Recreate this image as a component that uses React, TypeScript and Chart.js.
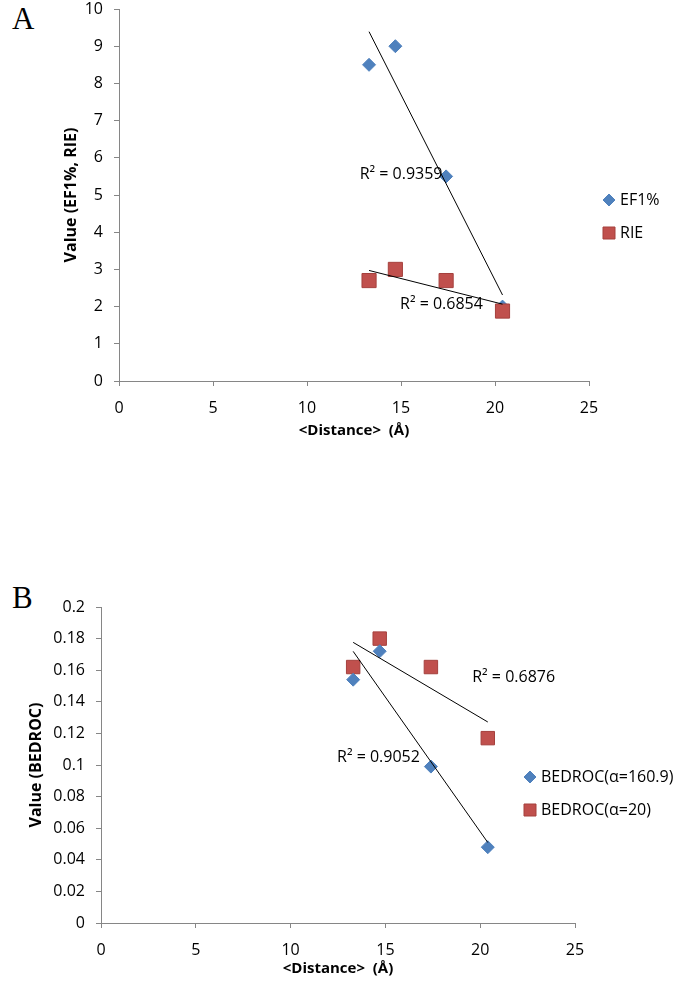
import React, { useEffect, useRef } from 'react';
import { Chart, registerables } from 'chart.js';

Chart.register(...registerables);

// ---------- data ----------
const distances = [13.3, 14.7, 17.4, 20.4];
const ef1Values = [8.5, 9.0, 5.5, 2.0];
const rieValues = [2.7, 3.0, 2.7, 1.88];
const bedroc160Values = [0.154, 0.172, 0.099, 0.048];
const bedroc20Values = [0.162, 0.18, 0.162, 0.117];

const seriesNamesA = ['EF1%', 'RIE'];
const seriesNamesB = ['BEDROC(α=160.9)', 'BEDROC(α=20)'];
const r2TextsA = ['R² = 0.9359', 'R² = 0.6854'];
const r2TextsB = ['R² = 0.6876', 'R² = 0.9052'];
const xAxisTitle = '<Distance>  (Å)';
const yAxisTitleA = 'Value (EF1%, RIE)';
const yAxisTitleB = 'Value (BEDROC)';

// R² label anchors in data units (left edge, vertical middle)
const r2AnchorsA = [
  { x: 12.8, y: 5.55 },
  { x: 14.95, y: 2.05 },
];
const r2AnchorsB = [
  { x: 19.58, y: 0.1555 },
  { x: 12.45, y: 0.105 },
];

const BLUE = '#4F81BD';
const RED = '#C0504D';
const RED_BORDER = '#A5403D';
const AXIS = '#868686';
const FONT = "'Open Sans', 'DejaVu Sans', sans-serif";

function pts(xs: number[], ys: number[]) {
  return xs.map((x, i) => ({ x, y: ys[i] }));
}

function trend(xs: number[], ys: number[]) {
  const n = xs.length;
  const mx = xs.reduce((a, b) => a + b, 0) / n;
  const my = ys.reduce((a, b) => a + b, 0) / n;
  let sxy = 0;
  let sxx = 0;
  for (let i = 0; i < n; i++) {
    sxy += (xs[i] - mx) * (ys[i] - my);
    sxx += (xs[i] - mx) * (xs[i] - mx);
  }
  const b = sxy / sxx;
  const a = my - b * mx;
  const x0 = Math.min(...xs);
  const x1 = Math.max(...xs);
  return [
    { x: x0, y: a + b * x0 },
    { x: x1, y: a + b * x1 },
  ];
}

function drawMarker(ctx: CanvasRenderingContext2D, style: string, x: number, y: number, size: number, fill: string, stroke: string) {
  ctx.save();
  ctx.fillStyle = fill;
  ctx.strokeStyle = stroke;
  ctx.lineWidth = 1;
  ctx.beginPath();
  if (style === 'rectRot') {
    ctx.moveTo(x, y - size);
    ctx.lineTo(x + size, y);
    ctx.lineTo(x, y + size);
    ctx.lineTo(x - size, y);
    ctx.closePath();
  } else {
    ctx.rect(x - size, y - size, size * 2, size * 2);
  }
  ctx.fill();
  ctx.stroke();
  ctx.restore();
}

type LegendCfg = { dx: number; dy: number[]; size: number[] };
type Labels = { texts: string[]; anchors: { x: number; y: number }[] };

function makePlugins(labels: Labels, legend: LegendCfg) {
  return [
    {
      id: 'r2labels',
      afterDatasetsDraw(chart: any) {
        const { ctx, scales } = chart;
        ctx.save();
        ctx.font = `16px ${FONT}`;
        ctx.fillStyle = '#000';
        ctx.textAlign = 'left';
        ctx.textBaseline = 'middle';
        labels.texts.forEach((t, i) => {
          const a = labels.anchors[i];
          ctx.fillText(t, scales.x.getPixelForValue(a.x), scales.y.getPixelForValue(a.y));
        });
        ctx.restore();
      },
    },
    {
      id: 'customLegend',
      afterDraw(chart: any) {
        const { ctx, chartArea } = chart;
        const items = chart.data.datasets.filter((d: any) => d.legendItem);
        items.forEach((d: any, i: number) => {
          const x = chartArea.right + legend.dx;
          const y = chartArea.top + legend.dy[i];
          drawMarker(ctx, d.pointStyle, x, y, legend.size[i], d.backgroundColor, d.borderColor);
          ctx.save();
          ctx.font = `16px ${FONT}`;
          ctx.fillStyle = '#000';
          ctx.textAlign = 'left';
          ctx.textBaseline = 'middle';
          ctx.fillText(d.label, x + 11, y);
          ctx.restore();
        });
      },
    },
  ];
}

type ChartProps = {
  top: number;
  height: number;
  datasets: any[];
  yMax: number;
  yStep: number;
  yWidth: number;
  padding: { top: number; right: number; bottom: number; left: number };
  xScaleHeight: number;
  xTitlePad: number;
  yTitlePad: number;
  yTitle: string;
  labels: Labels;
  legend: LegendCfg;
};

function ScatterChart(p: ChartProps) {
  const ref = useRef<HTMLCanvasElement | null>(null);
  useEffect(() => {
    if (!ref.current) return;
    const tickFont = { family: FONT, size: 16 };
    const chart = new Chart(ref.current, {
      type: 'scatter',
      data: { datasets: p.datasets },
      plugins: makePlugins(p.labels, p.legend) as any,
      options: {
        animation: false,
        responsive: false,
        layout: { padding: p.padding },
        plugins: { legend: { display: false }, tooltip: { enabled: false } },
        scales: {
          x: {
            type: 'linear',
            min: 0,
            max: 25,
            ticks: { stepSize: 5, font: tickFont, color: '#000', padding: 13 },
            grid: { drawOnChartArea: false, drawTicks: true, tickLength: 5, color: AXIS },
            border: { color: AXIS, width: 1 },
            title: {
              display: true,
              text: xAxisTitle,
              font: { family: FONT, size: 15, weight: 'bold' },
              color: '#000',
              padding: { top: 0, bottom: p.xTitlePad },
            },
            afterFit(scale: any) {
              scale.height = p.xScaleHeight;
            },
          },
          y: {
            type: 'linear',
            min: 0,
            max: p.yMax,
            ticks: {
              stepSize: p.yStep,
              font: tickFont,
              color: '#000',
              padding: 11,
              callback: (v: any) => String(Number(Number(v).toFixed(3))),
            },
            grid: { drawOnChartArea: false, drawTicks: true, tickLength: 5, color: AXIS },
            border: { color: AXIS, width: 1 },
            title: {
              display: true,
              text: p.yTitle,
              font: { family: FONT, size: 16, weight: 'bold' },
              color: '#000',
              padding: { top: p.yTitlePad, bottom: 0 },
            },
            afterFit(scale: any) {
              scale.width = p.yWidth;
            },
          },
        },
      } as any,
    });
    return () => chart.destroy();
  }, []);
  return (
    <canvas
      ref={ref}
      width={675}
      height={p.height}
      style={{ position: 'absolute', left: 0, top: p.top, width: 675, height: p.height }}
    />
  );
}

function trendDataset(xs: number[], ys: number[]) {
  return {
    data: trend(xs, ys),
    showLine: true,
    borderColor: '#000',
    borderWidth: 1,
    pointRadius: 0,
    order: 0,
  };
}

export default function App() {
  const efDataset = {
    label: seriesNamesA[0],
    legendItem: true,
    data: pts(distances, ef1Values),
    pointStyle: 'rectRot',
    pointRadius: 6.5,
    backgroundColor: BLUE,
    borderColor: BLUE,
    borderWidth: 1,
    order: 2,
  };
  const rieDataset = {
    label: seriesNamesA[1],
    legendItem: true,
    data: pts(distances, rieValues),
    pointStyle: 'rect',
    pointRadius: 10,
    backgroundColor: RED,
    borderColor: RED_BORDER,
    borderWidth: 1,
    order: 1,
  };
  const datasetsA = [
    trendDataset(distances, ef1Values),
    trendDataset(distances, rieValues),
    efDataset,
    rieDataset,
  ];

  const datasetsB = [
    trendDataset(distances, bedroc20Values),
    trendDataset(distances, bedroc160Values),
    {
      label: seriesNamesB[0],
      legendItem: true,
      data: pts(distances, bedroc160Values),
      pointStyle: 'rectRot',
      pointRadius: 6.5,
      backgroundColor: BLUE,
      borderColor: BLUE,
      borderWidth: 1,
      order: 1,
    },
    {
      label: seriesNamesB[1],
      legendItem: true,
      data: pts(distances, bedroc20Values),
      pointStyle: 'rect',
      pointRadius: 9.5,
      backgroundColor: RED,
      borderColor: RED_BORDER,
      borderWidth: 1,
      order: 2,
    },
  ];

  const letterStyle: React.CSSProperties = {
    position: 'absolute',
    left: 12,
    fontFamily: "'Liberation Serif', 'DejaVu Serif', serif",
    fontSize: 31,
    lineHeight: '31px',
    color: '#000',
  };

  return (
    <div style={{ position: 'absolute', left: 0, top: 0, width: 675, height: 987, overflow: 'hidden', background: '#fff' }}>
      <div style={{ ...letterStyle, top: 3 }}>A</div>
      <div style={{ ...letterStyle, top: 582 }}>B</div>
      <ScatterChart
        top={-21}
        height={490}
        datasets={datasetsA}
        yMax={10}
        yStep={1}
        yWidth={119}
        padding={{ top: 30, right: 86, bottom: 28, left: 0 }}
        xScaleHeight={60}
        xTitlePad={1.6}
        yTitlePad={61.6}
        yTitle={yAxisTitleA}
        labels={{ texts: r2TextsA, anchors: r2AnchorsA }}
        legend={{ dx: 20, dy: [191, 224], size: [6, 6] }}
      />
      <ScatterChart
        top={577}
        height={410}
        datasets={datasetsB}
        yMax={0.2}
        yStep={0.02}
        yWidth={101}
        padding={{ top: 30, right: 100, bottom: 9, left: 0 }}
        xScaleHeight={55}
        xTitlePad={0.6}
        yTitlePad={26.6}
        yTitle={yAxisTitleB}
        labels={{ texts: r2TextsB, anchors: r2AnchorsB }}
        legend={{ dx: -45, dy: [170, 203], size: [6, 6] }}
      />
    </div>
  );
}
